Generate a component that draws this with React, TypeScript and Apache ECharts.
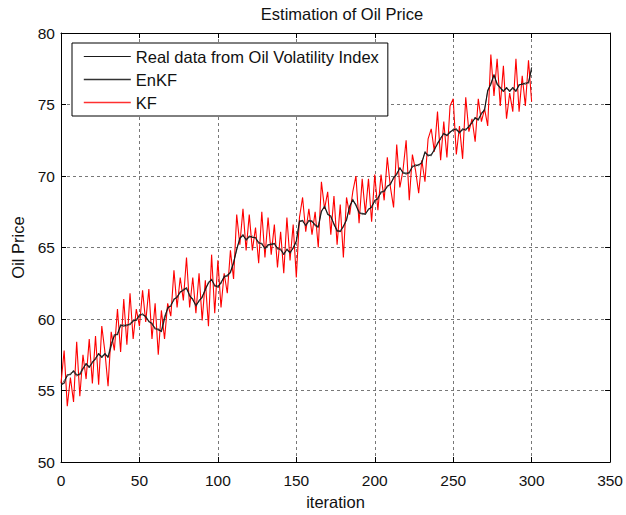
import React, { useEffect, useRef } from "react";
import * as echarts from "echarts";

const STEP = 2;

const realData: number[] = [
  55.3, 55.7, 56.0, 56.2, 56.3, 56.0, 56.2, 56.6, 56.8, 56.7,
  56.9, 57.3, 57.5, 57.4, 57.5, 57.4, 58.3, 58.8, 59.0, 59.5,
  59.6, 59.5, 59.7, 59.8, 60.0, 60.2, 60.4, 60.1, 59.9, 59.6,
  59.4, 59.2, 59.2, 60.2, 60.7, 61.0, 61.3, 61.6, 61.8, 62.1,
  62.1, 61.7, 61.3, 61.0, 61.2, 61.6, 62.0, 62.6, 62.7, 62.4,
  62.2, 62.6, 62.9, 63.1, 63.2, 64.0, 64.8, 65.7, 65.8, 65.6,
  65.7, 65.8, 65.6, 65.4, 65.2, 65.0, 65.1, 65.3, 65.2, 65.0,
  64.8, 64.6, 64.8, 64.7, 64.9, 65.5, 66.9, 66.8, 66.6, 66.8,
  66.9, 66.5, 66.5, 67.6, 67.8, 67.4, 67.1, 66.7, 66.1, 66.2,
  66.4, 67.0, 67.8, 68.4, 67.9, 67.5, 67.3, 67.4, 67.6, 67.9,
  68.2, 68.5, 68.8, 69.0, 69.2, 69.5, 69.8, 70.2, 70.5, 70.3,
  70.1, 70.3, 70.6, 70.8, 70.7, 71.0, 71.6, 71.5, 71.4, 71.9,
  72.2, 72.7, 72.9, 72.9, 73.0, 73.3, 73.2, 73.1, 73.2, 73.3,
  73.4, 73.8, 74.0, 74.0, 74.3, 74.7, 75.9, 76.5, 77.0, 76.5,
  76.1, 76.0, 76.1, 76.0, 76.1, 76.0, 76.3, 76.5, 76.4, 76.6,
  77.4,
];

const enkfData: number[] = [
  55.4, 55.5, 56.1, 56.1, 56.4, 56.1, 56.1, 56.5, 56.9, 56.6,
  57.0, 57.2, 57.6, 57.3, 57.6, 57.3, 58.1, 58.9, 58.9, 59.6,
  59.5, 59.6, 59.6, 59.9, 59.9, 60.3, 60.3, 60.2, 59.8, 59.7,
  59.3, 59.3, 59.1, 60.0, 60.8, 60.9, 61.4, 61.5, 61.9, 62.0,
  62.2, 61.6, 61.4, 60.9, 61.3, 61.5, 62.1, 62.5, 62.8, 62.3,
  62.3, 62.5, 63.0, 63.0, 63.3, 63.9, 64.9, 65.6, 65.9, 65.5,
  65.8, 65.7, 65.7, 65.3, 65.3, 64.9, 65.2, 65.2, 65.3, 64.9,
  64.9, 64.5, 64.9, 64.6, 65.0, 65.4, 66.8, 66.9, 66.5, 66.9,
  66.8, 66.6, 66.4, 67.5, 67.9, 67.3, 67.2, 66.6, 66.2, 66.1,
  66.5, 66.9, 67.9, 68.3, 68.0, 67.4, 67.4, 67.3, 67.7, 67.8,
  68.3, 68.4, 68.9, 68.9, 69.3, 69.4, 69.9, 70.1, 70.6, 70.2,
  70.2, 70.2, 70.7, 70.7, 70.8, 70.9, 71.7, 71.4, 71.5, 71.8,
  72.3, 72.6, 73.0, 72.8, 73.1, 73.2, 73.3, 73.0, 73.3, 73.2,
  73.5, 73.7, 74.1, 73.9, 74.4, 74.6, 76.0, 76.4, 77.1, 76.4,
  76.2, 75.9, 76.2, 75.9, 76.2, 75.9, 76.4, 76.4, 76.5, 76.5,
  77.6,
];

const kfData: number[] = [
  55.5, 57.8, 53.9, 55.9, 54.2, 58.4, 54.6, 57.5, 55.8, 58.6,
  55.5, 58.8, 55.4, 59.5, 57.7, 55.3, 59.1, 57.8, 60.7, 57.7,
  61.4, 58.2, 61.8, 58.6, 60.7, 59.5, 62.0, 59.8, 62.1, 58.6,
  61.1, 57.5, 60.6, 58.6, 61.1, 60.2, 63.4, 60.8, 62.9, 61.3,
  64.3, 60.8, 62.9, 60.4, 63.2, 59.9, 62.7, 59.5, 64.5, 60.4,
  64.1, 60.8, 63.2, 61.8, 64.8, 62.8, 67.3, 65.2, 67.7, 64.8,
  67.3, 64.8, 66.4, 63.9, 67.5, 64.3, 67.1, 64.5, 66.6, 63.6,
  66.1, 63.2, 67.1, 64.1, 66.6, 62.9, 67.1, 68.5, 66.1, 67.7,
  65.9, 67.5, 65.0, 69.6, 67.7, 68.9, 65.9, 68.6, 65.2, 68.0,
  64.3, 68.5, 67.3, 68.9, 70.0, 66.7, 69.8, 67.4, 69.8, 66.8,
  70.1, 67.6, 70.1, 68.3, 71.3, 69.2, 67.8, 72.2, 69.2, 70.4,
  72.5, 68.3, 71.5, 70.4, 68.8, 71.1, 69.6, 72.6, 73.3, 71.7,
  74.5, 71.1, 73.8, 71.3, 74.9, 75.4, 71.5, 73.5, 71.2, 75.5,
  73.1, 74.0, 72.4, 75.4, 73.8, 74.7, 73.5, 78.5, 75.6, 78.2,
  74.9, 77.7, 74.0, 75.8, 74.5, 78.2, 74.5, 77.0, 74.9, 78.1,
  75.2,
];

const xTicks = { min: 0, max: 350, interval: 50 };
const yTicks = { min: 50, max: 80, interval: 5 };

const pairs = (vals: number[]) => vals.map((v, i) => [i * STEP, v]);

const FONT = "Liberation Sans, Arial, Helvetica, sans-serif";

export default function App() {
  const ref = useRef<HTMLDivElement>(null);
  useEffect(() => {
    if (!ref.current) return;
    const chart = echarts.init(ref.current, undefined, { renderer: "svg" });
    const gridLine = { show: true, lineStyle: { color: "#555", width: 0.8, type: [3, 3] as any } };
    const axisLine = { show: true, onZero: false, lineStyle: { color: "#000", width: 1 } };
    const tick = { show: true, inside: true, length: 5, lineStyle: { color: "#000", width: 1 } };
    chart.setOption({
      animation: false,
      backgroundColor: "#fff",
      textStyle: { fontFamily: FONT },
      title: {
        text: "Estimation of Oil Price",
        left: 337,
        textAlign: "center",
        top: 0,
        textStyle: { fontFamily: FONT, fontSize: 16.5, fontWeight: "normal", color: "#111" },
      },
      grid: { left: 61, right: 13, top: 33, bottom: 47, containLabel: false },
      legend: {
        show: true,
        orient: "vertical",
        left: 72,
        top: 43,
        padding: [5, 9, 5, 11],
        itemWidth: 47,
        itemHeight: 18,
        itemGap: 6,
        backgroundColor: "#fff",
        borderColor: "#000",
        borderWidth: 1,
        borderRadius: 0,
        itemStyle: { opacity: 0 },
        textStyle: { fontFamily: FONT, fontSize: 16.5, color: "#111", padding: [0, 0, 0, 0] },
        data: [
          { name: "Real data from Oil Volatility Index", lineStyle: { width: 0.9, color: "#000" } },
          { name: "EnKF", lineStyle: { width: 1.6, color: "#333" } },
          { name: "KF", lineStyle: { width: 1.4, color: "#ff3030" } },
        ],
      },
      xAxis: [
        {
          type: "value",
          ...xTicks,
          name: "iteration",
          nameLocation: "middle",
          nameGap: 31,
          nameTextStyle: { fontFamily: FONT, fontSize: 16.5, color: "#111" },
          axisLine,
          axisTick: tick,
          axisLabel: { fontFamily: FONT, fontSize: 15.5, color: "#111", margin: 10 },
          splitLine: gridLine,
        },
        {
          type: "value",
          ...xTicks,
          position: "top",
          axisLine,
          axisTick: tick,
          axisLabel: { show: false },
          splitLine: { show: false },
        },
      ],
      yAxis: [
        {
          type: "value",
          ...yTicks,
          name: "Oil Price",
          nameLocation: "middle",
          nameGap: 33,
          nameRotate: 90,
          nameTextStyle: { fontFamily: FONT, fontSize: 16.5, color: "#111" },
          axisLine,
          axisTick: tick,
          axisLabel: { fontFamily: FONT, fontSize: 15.5, color: "#111", margin: 6 },
          splitLine: gridLine,
        },
        {
          type: "value",
          ...yTicks,
          position: "right",
          axisLine,
          axisTick: tick,
          axisLabel: { show: false },
          splitLine: { show: false },
        },
      ],
      series: [
        {
          name: "KF",
          type: "line",
          data: pairs(kfData),
          symbol: "none",
          z: 2,
          lineStyle: { color: "#ff0000", width: 1.1 },
          itemStyle: { color: "#ff0000" },
        },
        {
          name: "EnKF",
          type: "line",
          data: pairs(enkfData),
          symbol: "none",
          z: 3,
          lineStyle: { color: "#2a2a2a", width: 1.1 },
          itemStyle: { color: "#2a2a2a" },
        },
        {
          name: "Real data from Oil Volatility Index",
          type: "line",
          data: pairs(realData),
          symbol: "none",
          z: 4,
          lineStyle: { color: "#000", width: 0.6 },
          itemStyle: { color: "#000" },
        },
      ],
    });
    return () => chart.dispose();
  }, []);
  return (
    <div
      ref={ref}
      style={{ position: "fixed", left: 0, top: 0, width: 626, height: 515, background: "#fff" }}
    />
  );
}
